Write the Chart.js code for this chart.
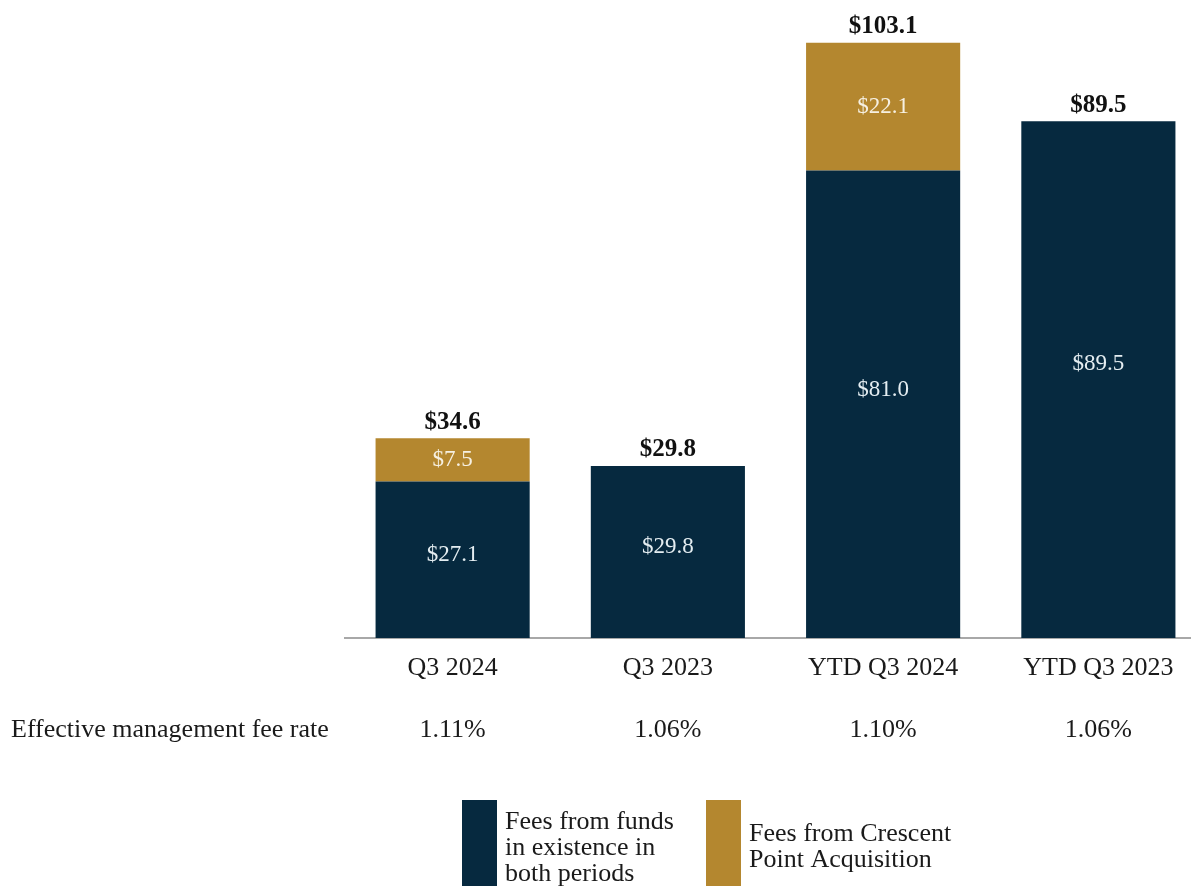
<!DOCTYPE html>
<html>
<head>
<meta charset="utf-8">
<script src="https://cdn.jsdelivr.net/npm/chart.js@4"></script>
<style>
  html, body { margin: 0; padding: 0; background: #fff; overflow: hidden; }
  #wrap { position: absolute; left: 0; top: 0; width: 1215px; height: 886px; }
</style>
</head>
<body>
<div id="wrap"><canvas id="feeChart" width="1215" height="886"></canvas></div>
<script>
// ---- data ----
const categories = ["Q3 2024", "Q3 2023", "YTD Q3 2024", "YTD Q3 2023"];
const existingFees = [27.1, 29.8, 81.0, 89.5];
const crescentFees = [7.5, null, 22.1, null];
const totals = [34.6, 29.8, 103.1, 89.5];
const feeRates = ["1.11%", "1.06%", "1.10%", "1.06%"];
const rateLabel = "Effective management fee rate";
const seriesNames = [
  ["Fees from funds", "in existence in", "both periods"],
  ["Fees from Crescent", "Point Acquisition"]
];

const NAVY = "#06293f";
const GOLD = "#b4872f";
const SERIF = "'Liberation Serif', 'Times New Roman', serif";

const money = v => "$" + v.toFixed(1);

// labels on bars + totals
const barLabels = {
  id: "barLabels",
  afterDatasetsDraw(chart) {
    const ctx = chart.ctx;
    ctx.save();
    ctx.textAlign = "center";
    ctx.textBaseline = "middle";
    chart.data.datasets.forEach((ds, di) => {
      const meta = chart.getDatasetMeta(di);
      meta.data.forEach((bar, i) => {
        const v = ds.data[i];
        if (v == null) return;
        const top = bar.y, bottom = bar.base;
        const y = di === 0 ? top + (bottom - top) * 0.47 : (top + bottom) / 2;
        ctx.font = "23px " + SERIF;
        ctx.fillStyle = di === 0 ? "#e4edf1" : "#f6f0e2";
        ctx.fillText(money(v), bar.x, y);
      });
    });
    // totals
    const yScale = chart.scales.y;
    const xScale = chart.scales.x;
    ctx.font = "bold 25px " + SERIF;
    ctx.fillStyle = "#111";
    totals.forEach((t, i) => {
      ctx.fillText(money(t), xScale.getPixelForValue(i), yScale.getPixelForValue(t) - 16);
    });
    ctx.restore();
  }
};

// fee rate row + legend
const extras = {
  id: "extras",
  afterDraw(chart) {
    const ctx = chart.ctx;
    const xScale = chart.scales.x;
    ctx.save();
    ctx.font = "26px " + SERIF;
    ctx.fillStyle = "#1a1a1a";
    ctx.textBaseline = "middle";
    ctx.textAlign = "left";
    ctx.fillText(rateLabel, 11, 730);
    ctx.textAlign = "center";
    feeRates.forEach((r, i) => ctx.fillText(r, xScale.getPixelForValue(i), 730));

    // legend
    const items = [
      { color: NAVY, x: 462, lines: seriesNames[0], y0: 822 },
      { color: GOLD, x: 706, lines: seriesNames[1], y0: 834 }
    ];
    ctx.font = "26px " + SERIF;
    ctx.textAlign = "left";
    items.forEach(it => {
      ctx.fillStyle = it.color;
      ctx.fillRect(it.x, 800, 35, 90);
      ctx.fillStyle = "#1a1a1a";
      it.lines.forEach((ln, k) => ctx.fillText(ln, it.x + 43, it.y0 + k * 26));
    });
    ctx.restore();
  }
};

new Chart(document.getElementById("feeChart"), {
  type: "bar",
  data: {
    labels: categories,
    datasets: [
      { label: seriesNames[0].join(" "), data: existingFees, backgroundColor: NAVY },
      { label: seriesNames[1].join(" "), data: crescentFees, backgroundColor: GOLD }
    ]
  },
  options: {
    responsive: false,
    animation: false,
    layout: { padding: { left: 345, right: 9, top: 3, bottom: 148 } },
    datasets: { bar: { barPercentage: 0.716, categoryPercentage: 1 } },
    plugins: { legend: { display: false }, tooltip: { enabled: false } },
    scales: {
      x: {
        stacked: true,
        grid: { display: false, drawTicks: false },
        border: { display: true, color: "#a8a8a8", width: 2 },
        ticks: { font: { family: SERIF, size: 26 }, color: "#1a1a1a", padding: 15 },
        afterFit: s => { s.height = 100; }
      },
      y: {
        stacked: true,
        display: false,
        min: 0,
        max: 110
      }
    }
  },
  plugins: [barLabels, extras]
});
</script>
</body>
</html>
